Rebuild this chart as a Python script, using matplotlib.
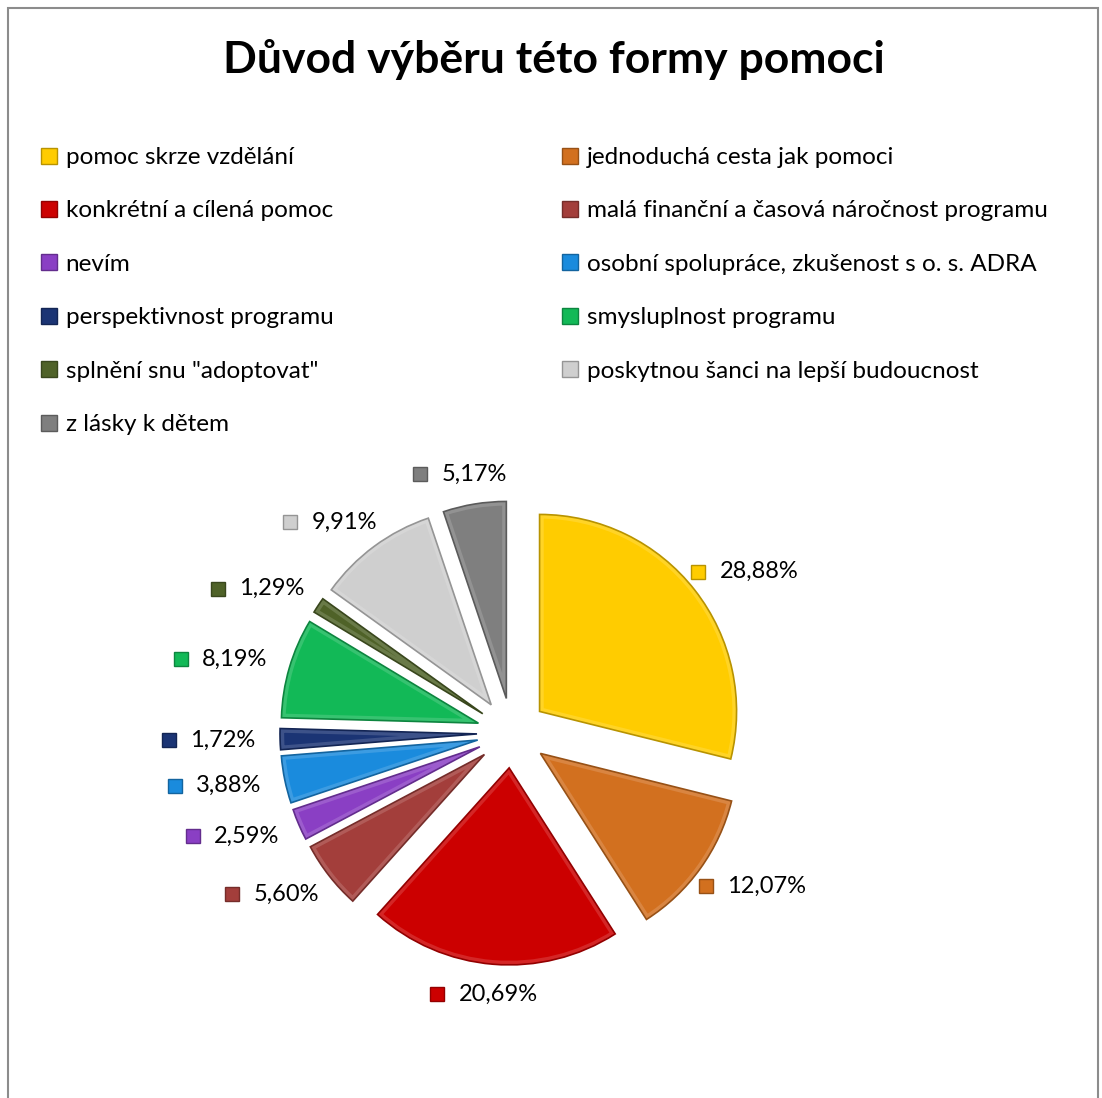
import numpy as np
import matplotlib
matplotlib.use("Agg")
import matplotlib.pyplot as plt
from matplotlib.lines import Line2D
from matplotlib.patches import Rectangle, Wedge
from matplotlib.colors import to_rgb

plt.rcParams['font.family'] = ['Lato', 'DejaVu Sans']

# data
categories = [
    "pomoc skrze vzdělání",
    "jednoduchá cesta jak pomoci",
    "konkrétní a cílená pomoc",
    "malá finanční a časová náročnost programu",
    "nevím",
    "osobní spolupráce, zkušenost s o. s. ADRA",
    "perspektivnost programu",
    "smysluplnost programu",
    "splnění snu \"adoptovat\"",
    "poskytnou šanci na lepší budoucnost",
    "z lásky k dětem",
]
values = [28.88, 12.07, 20.69, 5.60, 2.59, 3.88, 1.72, 8.19, 1.29, 9.91, 5.17]
colors = ["#FFCC00", "#D2701F", "#CC0000", "#A33E3B", "#8A3FC4", "#1A8BDD",
          "#1B3474", "#12B957", "#4F6228", "#CFCFCF", "#7F7F7F"]
title = "Důvod výběru této formy pomoci"


def shade(c, f):
    rgb = np.array(to_rgb(c))
    if f < 1:
        return tuple(rgb * f)
    return tuple(rgb + (1 - rgb) * (f - 1))


W, H = 1102, 1098
fig = plt.figure(figsize=(W / 100, H / 100), dpi=100)
fig.patch.set_facecolor("white")

# frame around the chart
fig.add_artist(Rectangle((8 / W, -0.01), (1098 - 8) / W, 1 - 8 / H + 0.01,
                         transform=fig.transFigure, fill=False,
                         edgecolor="#8c8c8c", linewidth=1.5))

fig.text(0.503, 1 - 59 / H, title, ha="center", va="center",
         fontsize=32, fontweight="bold")

# pie in pixel-like coordinates
ax = fig.add_axes([0, 0, 1, 1])
cx, cy, r = 512, H - 733, 197
explode = [35] * len(values)
wedges, _ = ax.pie(values, colors=colors, startangle=90, counterclock=False,
                   center=(cx, cy), radius=r, explode=explode,
                   wedgeprops=dict(linewidth=0))

# simple bevel: light inner rim clipped to the slice, dark outline on top
for w, c in zip(wedges, colors):
    rim = Wedge(w.center, w.r, w.theta1, w.theta2, fill=False,
                edgecolor=shade(c, 1.15), linewidth=6)
    ax.add_patch(rim)
    rim.set_clip_path(w)
    ax.add_patch(Wedge(w.center, w.r, w.theta1, w.theta2, fill=False,
                       edgecolor=shade(c, 0.72), linewidth=1.2))

fig.canvas.draw()
renderer = fig.canvas.get_renderer()
for w, v, c in zip(wedges, values, colors):
    mid = np.deg2rad((w.theta1 + w.theta2) / 2)
    lx = cx + 300 * np.cos(mid)
    ly = cy + 262 * np.sin(mid)
    t = ax.text(lx, ly, f"{v:.2f}".replace(".", ",") + "%",
                ha="left", va="center", fontsize=17)
    tw = t.get_window_extent(renderer).width
    group = 21 + tw
    x0 = lx - group / 2 + 10
    t.set_x(x0 + 11)
    ax.plot(x0 - 10, ly, marker="s", markersize=10, color=c,
            markeredgecolor=shade(c, 0.72), markeredgewidth=1)

ax.set_xlim(0, W)
ax.set_ylim(0, H)
ax.set_aspect("equal")
ax.axis("off")

# legend, row-major in two columns
handles = [Line2D([], [], linestyle="none", marker="s", markersize=11,
                  color=c, markeredgecolor=shade(c, 0.72), markeredgewidth=1)
           for c in colors]
common = dict(loc="upper left", frameon=False, fontsize=17.5, borderpad=0,
              handlelength=0.75, handletextpad=0.3, labelspacing=1.335,
              borderaxespad=0)
leg1 = fig.legend(handles[0::2], categories[0::2],
                  bbox_to_anchor=(40 / W, 1 - 147 / H), **common)
leg2 = fig.legend(handles[1::2], categories[1::2],
                  bbox_to_anchor=(561 / W, 1 - 147 / H), **common)

fig.savefig("out.png", dpi=100)
